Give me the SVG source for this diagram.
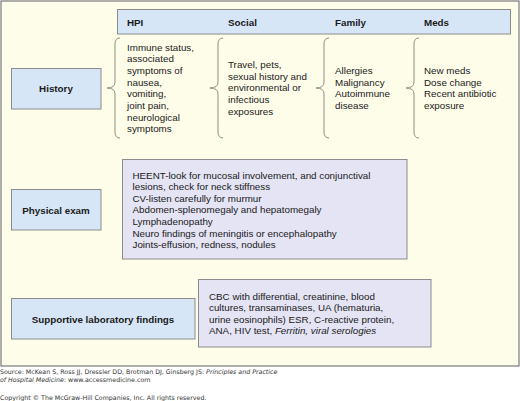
<svg xmlns="http://www.w3.org/2000/svg" width="520" height="401" viewBox="0 0 520 401">
<style>
.t{font-family:"Liberation Sans",Arial,sans-serif;font-size:9.8px;fill:#1a1a1a}
.b{font-weight:bold}
.blue{fill:#d6e6f6;stroke:#8c8c8c;stroke-width:1}
.lav{fill:#e4e4f4;stroke:#8c8c8c;stroke-width:1}
.brace{fill:none;stroke:#8f8f80;stroke-width:1}
.f{font-family:"DejaVu Sans",Verdana,sans-serif;font-size:6.3px;fill:#333}
</style>
<rect x="1" y="1" width="518" height="365" fill="#fefde9" stroke="#7a7a7a" stroke-width="1.2"/>
<g id="header">
<rect class="blue" x="117.5" y="9.5" width="393" height="24.5"/>
<text class="t b" x="127" y="25.5">HPI</text>
<text class="t b" x="228" y="25.5">Social</text>
<text class="t b" x="335" y="25.5">Family</text>
<text class="t b" x="424" y="25.5">Meds</text>
</g>
<g id="history">
<rect class="blue" x="11.5" y="68.5" width="89.5" height="40.5"/>
<text class="t b" x="56" y="92" text-anchor="middle">History</text>
</g>
<g id="connectors">
<path class="brace" d="M120,38 Q115,38 115,44 L115,82 Q115,88 107,88 Q115,88 115,94 L115,132 Q115,138 120,138"/>
<path class="brace" d="M223,38 Q218,38 218,44 L218,82 Q218,88 210,88 Q218,88 218,94 L218,132 Q218,138 223,138"/>
<path class="brace" d="M329,38 Q324,38 324,44 L324,82 Q324,88 316,88 Q324,88 324,94 L324,132 Q324,138 329,138"/>
<path class="brace" d="M419,38 Q414,38 414,44 L414,82 Q414,88 406,88 Q414,88 414,94 L414,132 Q414,138 419,138"/>
</g>
<g id="hpi">
<text class="t" x="127" y="50.5">
<tspan x="127">Immune status,</tspan>
<tspan x="127" dy="11.7">associated</tspan>
<tspan x="127" dy="11.7">symptoms of</tspan>
<tspan x="127" dy="11.7">nausea,</tspan>
<tspan x="127" dy="11.7">vomiting,</tspan>
<tspan x="127" dy="11.7">joint pain,</tspan>
<tspan x="127" dy="11.7">neurological</tspan>
<tspan x="127" dy="11.7">symptoms</tspan>
</text>
</g>
<g id="social">
<text class="t" x="228" y="68">
<tspan x="228">Travel, pets,</tspan>
<tspan x="228" dy="11.7">sexual history and</tspan>
<tspan x="228" dy="11.7">environmental or</tspan>
<tspan x="228" dy="11.7">infectious</tspan>
<tspan x="228" dy="11.7">exposures</tspan>
</text>
</g>
<g id="family">
<text class="t" x="335" y="74">
<tspan x="335">Allergies</tspan>
<tspan x="335" dy="11.7">Malignancy</tspan>
<tspan x="335" dy="11.7">Autoimmune</tspan>
<tspan x="335" dy="11.7">disease</tspan>
</text>
</g>
<g id="meds">
<text class="t" x="424" y="74">
<tspan x="424">New meds</tspan>
<tspan x="424" dy="11.7">Dose change</tspan>
<tspan x="424" dy="11.7">Recent antibiotic</tspan>
<tspan x="424" dy="11.7">exposure</tspan>
</text>
</g>
<g id="physical-exam">
<rect class="blue" x="11.5" y="189.5" width="89.5" height="40.5"/>
<text class="t b" x="56" y="213.5" text-anchor="middle">Physical exam</text>
</g>
<g id="exam-findings">
<rect class="lav" x="122.5" y="159.5" width="284.5" height="99.5"/>
<text class="t" x="132.5" y="178.5">
<tspan x="132.5">HEENT-look for mucosal involvement, and conjunctival</tspan>
<tspan x="132.5" dy="11.6">lesions, check for neck stiffness</tspan>
<tspan x="132.5" dy="11.6">CV-listen carefully for murmur</tspan>
<tspan x="132.5" dy="11.6">Abdomen-splenomegaly and hepatomegaly</tspan>
<tspan x="132.5" dy="11.6">Lymphadenopathy</tspan>
<tspan x="132.5" dy="11.6">Neuro findings of meningitis or encephalopathy</tspan>
<tspan x="132.5" dy="11.6">Joints-effusion, redness, nodules</tspan>
</text>
</g>
<g id="supportive">
<rect class="blue" x="11.5" y="298.5" width="183.5" height="40.5"/>
<text class="t b" x="103" y="322.5" text-anchor="middle">Supportive laboratory findings</text>
</g>
<g id="lab-findings">
<rect class="lav" x="198.5" y="279.5" width="232.5" height="67.5"/>
<text class="t" x="209" y="299.5">
<tspan x="209">CBC with differential, creatinine, blood</tspan>
<tspan x="209" dy="11.6">cultures, transaminases, UA (hematuria,</tspan>
<tspan x="209" dy="11.6">urine eosinophils) ESR, C-reactive protein,</tspan>
<tspan x="209" dy="11.6">ANA, HIV test, <tspan font-style="italic">Ferritin, viral serologies</tspan></tspan>
</text>
</g>
<g id="footer">
<text class="f" x="0" y="374">Source: McKean S, Ross JJ, Dressler DD, Brotman DJ, Ginsberg JS: <tspan font-style="italic">Principles and Practice</tspan></text>
<text class="f" x="0" y="381.5"><tspan font-style="italic">of Hospital Medicine</tspan>: www.accessmedicine.com</text>
<text class="f" x="0" y="399.5">Copyright © The McGraw-Hill Companies, Inc. All rights reserved.</text>
</g>
</svg>
